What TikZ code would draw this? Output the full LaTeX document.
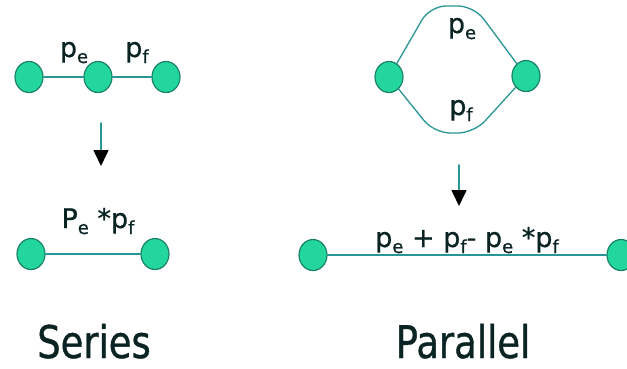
\documentclass[tikz,border=0pt]{standalone}
\usepackage{fontspec}
\setmainfont{DejaVu Sans}
\newfontfamily\labelfont[FakeBold=0.7]{DejaVu Sans}
\newfontfamily\titlefont[FakeStretch=0.82,FakeBold=0.8]{DejaVu Sans}
\usetikzlibrary{arrows.meta,shapes.geometric}
\definecolor{nodefill}{RGB}{35,214,156}
\definecolor{nodeline}{RGB}{25,130,105}
\definecolor{linkcol}{RGB}{40,150,150}
\definecolor{inkcol}{RGB}{10,35,35}
\newcommand\lo[1]{\raisebox{-6pt}{\fontsize{18}{18}\selectfont #1}}

\begin{document}
\begin{tikzpicture}[x=1pt, y=-1pt, line cap=round, line join=round,
  vertex/.style={ellipse, fill=nodefill, draw=nodeline, line width=1.2pt,
    minimum width=28pt, minimum height=31pt, inner sep=0pt},
  link/.style={draw=linkcol, line width=1.3pt},
  lbl/.style={text=inkcol, font=\labelfont\fontsize{27}{27}\selectfont, inner sep=0pt, anchor=base},
  title/.style={text=inkcol, font=\titlefont\fontsize{45}{45}\selectfont, inner sep=0pt, anchor=base},
  arr/.style={draw=linkcol, line width=1.6pt, -{Triangle[width=15pt,length=16pt,color=black]}}]
  \useasboundingbox (0,0) rectangle (627,368);

  % series, before
  \node[vertex] (s1) at (29,77) {};
  \node[vertex] (s2) at (98,77) {};
  \node[vertex] (s3) at (166,77) {};
  \draw[link] (s1) -- (s2);
  \draw[link] (s2) -- (s3);
  \node[lbl] (spe) at (74,57) {p\lo{e}};
  \node[lbl] (spf) at (137,57) {p\lo{f}};

  \coordinate (sTop) at (101,123);
  \coordinate (sBot) at (101,166);
  \draw[arr] (sTop) -- (sBot);

  % series, after
  \node[vertex] (t1) at (31,254) {};
  \node[vertex] (t2) at (155,254) {};
  \draw[link] (t1) -- (t2);
  \node[lbl] (tlab) at (98,228) {P\lo{e} *p\lo{f}};

  % parallel, before
  \node[vertex] (q1) at (389,77) {};
  \node[vertex] (q2) at (526,76) {};
  \draw[link, rounded corners=16pt] (q1) -- (430,6) -- (474,6) -- (q2);
  \draw[link, rounded corners=16pt] (q1) -- (434,133) -- (474,133) -- (q2);
  \node[lbl] (qpe) at (462,33) {p\lo{e}};
  \node[lbl] (qpf) at (461,115) {p\lo{f}};

  \coordinate (pTop) at (459,165);
  \coordinate (pBot) at (459,206);
  \draw[arr] (pTop) -- (pBot);

  % parallel, after
  \node[vertex] (r1) at (313,255) {};
  \node[vertex] (r2) at (621,255) {};
  \draw[link] (r1) -- (r2);
  \node[lbl] (rlab) at (467,247) {p\lo{e} + p\lo{f}- p\lo{e} *p\lo{f}};

  % captions
  \node[title] (cs) at (94,358) {Series};
  \node[title] (cp) at (463,358) {Parallel};
\end{tikzpicture}
\end{document}
